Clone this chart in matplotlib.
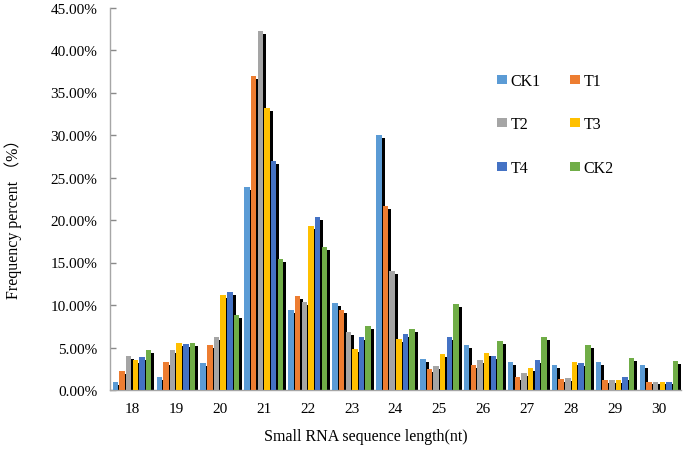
import numpy as np
import matplotlib
matplotlib.use("Agg")
import matplotlib.pyplot as plt
from matplotlib.patches import Patch
from matplotlib.ticker import FuncFormatter

# sRNA length distribution (percent)
lengths = [18, 19, 20, 21, 22, 23, 24, 25, 26, 27, 28, 29, 30]
ck1 = [0.98, 1.5, 3.14, 23.85, 9.4, 10.2, 30.0, 3.65, 5.29, 3.33, 2.94, 3.33, 2.94]
t1 = [2.27, 3.26, 5.29, 36.98, 11.05, 9.45, 21.7, 2.47, 2.94, 1.5, 1.3, 1.2, 1.0]
t2 = [3.96, 4.74, 6.2, 42.27, 10.3, 6.86, 14.04, 2.86, 3.57, 1.96, 1.4, 1.2, 1.0]
t3 = [3.56, 5.53, 11.18, 33.14, 19.26, 4.82, 6.0, 4.27, 4.31, 2.59, 3.33, 1.2, 1.0]
t4 = [3.88, 5.41, 11.53, 26.9, 20.3, 6.2, 6.59, 6.27, 4.04, 3.57, 3.14, 1.5, 1.0]
ck2 = [4.74, 5.53, 8.86, 15.37, 16.8, 7.49, 7.18, 10.1, 5.8, 6.27, 5.29, 3.73, 3.45]

names = ["CK1", "T1", "T2", "T3", "T4", "CK2"]
series = [ck1, t1, t2, t3, t4, ck2]
colors = ["#5B9BD5", "#ED7D31", "#A5A5A5", "#FFC000", "#4472C4", "#70AD47"]

plt.rcParams['font.family'] = ['Liberation Serif', 'Noto Sans CJK SC']

fig = plt.figure(figsize=(6.85, 4.52), dpi=100)
ax = fig.add_axes([110 / 685, 61 / 452, 571 / 685, 382.5 / 452])

x = np.arange(len(lengths))
step = 0.1515
width = 0.125
dx, dy = 0.068, 0.35  # shadow offset

for i, (vals, c) in enumerate(zip(series, colors)):
    pos = x + (i - 2.5) * step
    shadow = np.clip(np.array(vals) - dy, 0, None)
    ax.bar(pos + dx, shadow, width, color="black", linewidth=0, zorder=2)
    ax.bar(pos, vals, width, color=c, linewidth=0, zorder=3)

ax.set_xlim(-0.5, len(lengths) - 0.5)
ax.set_ylim(0, 45)
ax.set_yticks(np.arange(0, 46, 5))
ax.yaxis.set_major_formatter(FuncFormatter(lambda v, p: f"{v:.2f}%"))
ax.set_xticks(x)
ax.set_xticklabels([str(v) for v in lengths])

ax.tick_params(axis="y", direction="in", length=4, width=1, color="#898989",
               labelsize=11, pad=9)
ax.tick_params(axis="x", length=0, labelsize=11, pad=9)

for s in ["top", "right"]:
    ax.spines[s].set_visible(False)
for s in ["left", "bottom"]:
    ax.spines[s].set_color("#A6A6A6")
    ax.spines[s].set_linewidth(1)

fig.text(366 / 685, 1 - 437 / 452, "Small RNA sequence length(nt)",
         ha="center", va="center", fontsize=11.5)
fig.text(13 / 685, 1 - 215 / 452, "Frequency percent （%）",
         ha="center", va="center", rotation=90, fontsize=11.5)

# legend fills column by column, so reorder to read row by row
order = [0, 2, 4, 1, 3, 5]
handles = [Patch(facecolor=colors[k], edgecolor="none") for k in order]
labels = [names[k] for k in order]
fig.legend(handles, labels, ncol=2, loc="upper left",
           bbox_to_anchor=(497 / 685, 1 - 74 / 452), frameon=False,
           fontsize=11.5, handlelength=0.6, handleheight=0.45,
           handletextpad=0.25, columnspacing=1.85, labelspacing=1.72,
           borderpad=0, borderaxespad=0)

fig.savefig("out.png", dpi=100)
